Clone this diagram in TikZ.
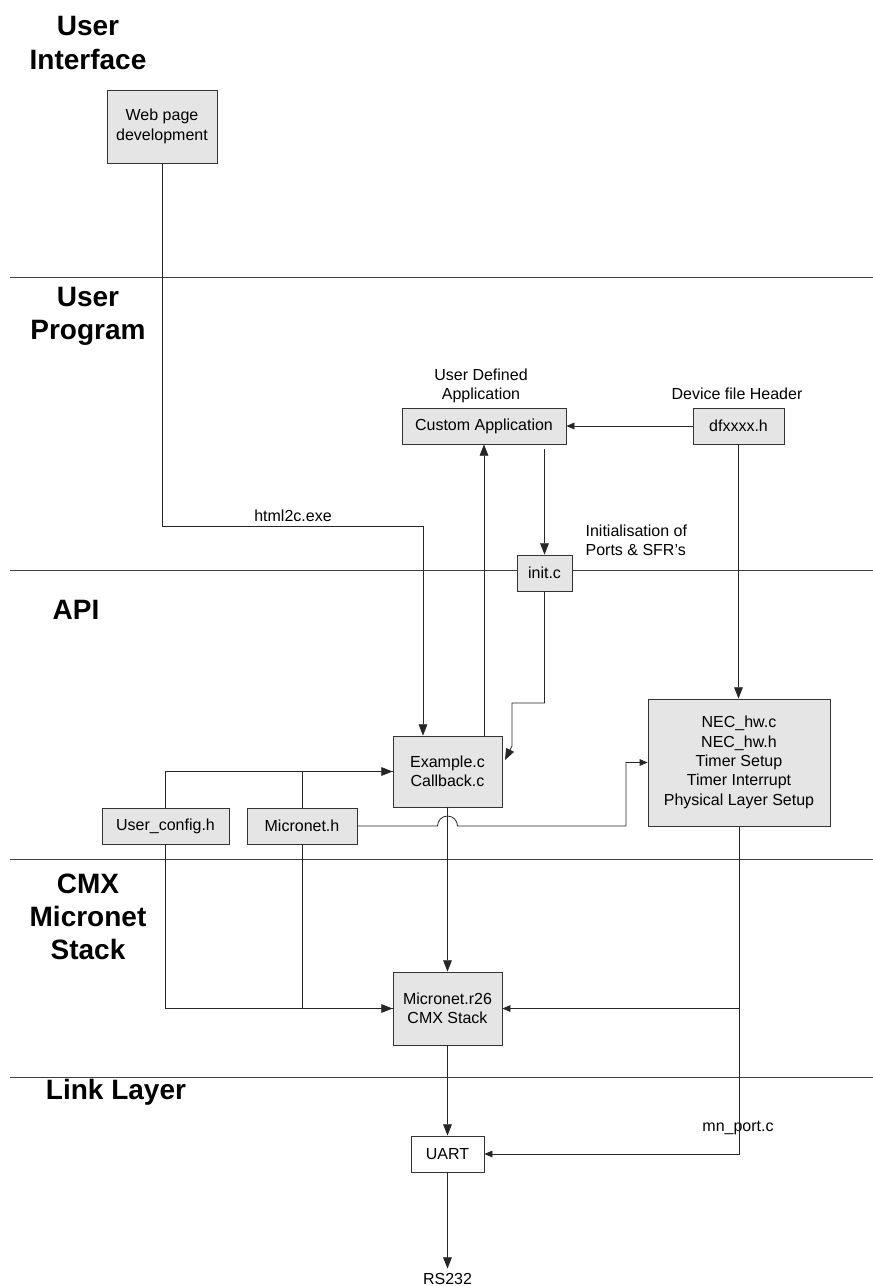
\documentclass[tikz,border=0pt]{standalone}
\usepackage{fontspec}
\setmainfont{Liberation Sans}
\usetikzlibrary{positioning}
\usetikzlibrary{calc}
\usetikzlibrary{arrows.meta}

\begin{document}
\begin{tikzpicture}[
    x=0.75pt, y=-0.75pt,
    font=\fontsize{12}{14.5}\selectfont,
    box/.style={rectangle, draw=black!80, fill=black!10, line width=0.6pt, align=center, inner sep=0pt},
    wbox/.style={box, fill=white},
    layer/.style={font=\fontsize{21}{25}\selectfont\bfseries, align=center},
    lbl/.style={align=center, inner sep=1pt},
    sep/.style={draw=black!75, line width=0.7pt},
    line/.style={draw=black!85, line width=0.6pt},
    arr/.style={line, -{Triangle[length=8.5pt, width=6.5pt]}},
    sarr/.style={line, -{Triangle[length=6pt, width=5pt]}},
    ]
        \useasboundingbox (0,0) rectangle (873,1286);

        % layer separators and titles
        \foreach \y in {277,570,859,1077}
            \draw[sep] (10,\y) -- (873,\y);
        \node[layer] (ui) at (88,43) {User\\Interface};
        \node[layer] (up) at (88,316) {User\\Program};
        \node[layer] (api) at (76,610) {API};
        \node[layer] (cmx) at (88,917) {CMX\\Micronet\\Stack};
        \node[layer] (link) at (116,1092) {Link Layer};

        % blocks
        \node[box, minimum width=82.5pt, minimum height=54.75pt] (web) at (162,126.5) {Web page\\development};
        \node[box, minimum width=123pt, minimum height=27pt] (app) at (484,426) {Custom Application};
        \node[box, minimum width=68.25pt, minimum height=27pt] (dfx) at (738.5,426) {dfxxxx.h};
        \node[box, minimum width=41.25pt, minimum height=27pt] (init) at (544.5,573) {init.c};
        \node[box, minimum width=81.75pt, minimum height=53.25pt] (ex) at (447.5,771.5) {Example.c\\Callback.c};
        \node[box, minimum width=136.5pt, minimum height=95.25pt] (nec) at (739,762.5) {NEC\_hw.c\\NEC\_hw.h\\Timer Setup\\Timer Interrupt\\Physical Layer Setup};
        \node[box, minimum width=95.25pt, minimum height=27pt] (ucfg) at (165.5,826) {User\_config.h};
        \node[box, minimum width=82.5pt, minimum height=27pt] (mnh) at (302,826) {Micronet.h};
        \node[box, minimum width=81.75pt, minimum height=54.75pt] (stack) at (447.5,1008.5) {Micronet.r26\\CMX Stack};
        \node[wbox, minimum width=54.75pt, minimum height=27pt] (uart) at (447.5,1154) {UART};
        \node (rs) at (447.5,1279) {RS232};

        % labels
        \node[lbl] (udlbl) at (481,386) {User Defined\\Application};
        \node[lbl] (devlbl) at (737,394) {Device file Header};
        \node[lbl] (h2clbl) at (293,516) {html2c.exe};
        \node[lbl, anchor=west, align=left] (initlbl) at (584,540) {Initialisation of\\Ports \& SFR's};
        \node[lbl] (mnlbl) at (738,1128) {mn\_port.c};

        \coordinate (h2c) at (423,526);
        \coordinate (i1) at (544.5,703);
        \coordinate (i2) at (512,703);
        \coordinate (i3) at (512,746);
        \coordinate (exin) at (505,760);
        \coordinate (hop) at (447.5,826);

        % connections
        \draw[arr] (web.south) |- (h2c) -- (h2c |- ex.north);
        \draw[arr] (ex.north -| app.south) -- (app.south);
        \draw[sarr] (dfx.west) -- (app.east);
        \draw[arr] ($(app.south -| init.north)+(0,5)$) -- (init.north);
        \draw[arr] (init.south) -- (i1) -- (i2) -- (i3) -- (exin);
        \draw[arr] (dfx.south) -- (dfx.south |- nec.north);
        \draw[arr] (ucfg.north) |- (ex.west);
        \draw[line] (mnh.north) |- (ex.west);
        \draw[sarr] (mnh.east) -- ($(hop)+(-10,0)$) arc[start angle=180, end angle=0, radius=7.5pt] -- (626,826) |- (nec.west);
        \draw[arr] (ex.south) -- (stack.north);
        \draw[arr] (ucfg.south) |- (stack.west);
        \draw[line] (mnh.south) |- (stack.west);
        \draw[sarr] (nec.south) |- (uart.east);
        \draw[sarr] (nec.south |- stack.east) -- (stack.east);
        \draw[arr] (stack.south) -- (uart.north);
        \draw[arr] (uart.south) -- (rs.north);
    \end{tikzpicture}
\end{document}
